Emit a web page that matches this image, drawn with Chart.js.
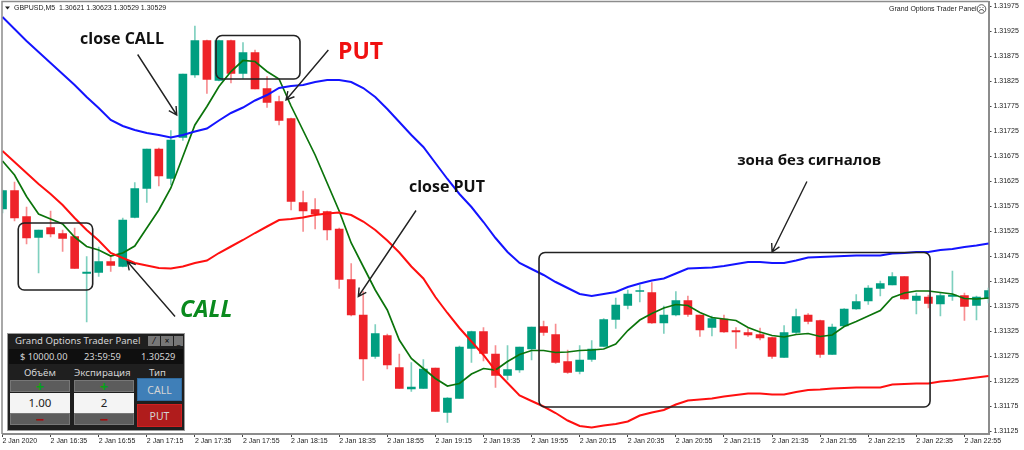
<!DOCTYPE html>
<html>
<head>
<meta charset="utf-8">
<script src="https://cdn.jsdelivr.net/npm/chart.js@4/dist/chart.umd.min.js"></script>
<style>
    html, body { margin: 0; padding: 0; background: #fff; }
    #wrap { position: relative; width: 1024px; height: 450px; overflow: hidden; }
    #panel { position: absolute; left: 7px; top: 333px; width: 176px; height: 96px; background: #1f1f1f; border: 1px solid #9a9a9a; box-sizing: content-box; font-family: "Noto Sans", sans-serif; color: #d4d4d4; font-size: 9.7px; }
    #panel div { position: absolute; text-align: center; white-space: nowrap; }
    .btn { background: #5c5c5c; border: 1px solid #777; box-sizing: border-box; font-weight: bold; line-height: 10px; font-size: 15px; }
    .val { background: #f4f4f4; color: #222; font-size: 11.5px; line-height: 20px; }
    .ico { top: 2px; height: 10px; background: #777; color: #000; line-height: 9px; font-size: 8px; }
</style>
</head>
<body>
<div id="wrap">
    <canvas id="myChart" width="1024" height="450"></canvas>
    <div id="panel">
        <div style="left:7px;top:0;width:133px;line-height:14px;font-size:9.6px;text-align:left">Grand Options Trader Panel</div>
        <div class="ico" style="left:140px;width:12px">⁄</div>
        <div class="ico" style="left:153px;width:12px">×</div>
        <div class="ico" style="left:166px;width:9px">_</div>
        <div style="left:1px;top:15px;width:174px;height:15px;background:#0f0f0f"></div>
        <div style="left:12px;top:15px;line-height:15px;font-size:9.3px">$ 10000.00</div>
        <div style="left:76px;top:15px;line-height:15px;font-size:9.3px">23:59:59</div>
        <div style="left:133px;top:15px;line-height:15px;font-size:9.3px">1.30529</div>
        <div style="left:16px;top:31px;line-height:15px">Объём</div>
        <div style="left:66px;top:31px;line-height:15px">Экспирация</div>
        <div style="left:141px;top:31px;line-height:15px">Тип</div>
        <div class="btn" style="left:2px;top:46px;width:60px;height:12px;color:#0aa01a">+</div>
        <div class="val" style="left:2px;top:59px;width:60px;height:20px">1.00</div>
        <div class="btn" style="left:2px;top:79px;width:60px;height:12px;color:#a01010">−</div>
        <div class="btn" style="left:66px;top:46px;width:60px;height:12px;color:#0aa01a">+</div>
        <div class="val" style="left:66px;top:59px;width:60px;height:20px">2</div>
        <div class="btn" style="left:66px;top:79px;width:60px;height:12px;color:#a01010">−</div>
        <div style="left:129px;top:44px;width:45px;height:23px;line-height:22px;background:#3f7fb8;border:1px solid #2f6a9e;box-sizing:border-box;font-size:10.5px">CALL</div>
        <div style="left:129px;top:70px;width:45px;height:23px;line-height:22px;background:#b01c1c;border:1px solid #d02020;box-sizing:border-box;font-size:10.5px">PUT</div>
    </div>
</div>
<script>
// GBPUSD M5 candles
const opens = [1.31570,1.31607,1.31555,1.31513,1.31533,1.31521,1.31515,1.31441,1.31443,1.31465,
    1.31455,1.31553,1.31611,1.31690,1.31631,1.31713,1.31838,1.31907,1.31827,1.31907,
    1.31841,1.31883,1.31811,1.31785,1.31751,1.31583,1.31569,1.31565,1.31530,1.31429,
    1.31358,1.31275,1.31317,1.31253,1.31210,1.31211,1.31252,1.31163,1.31191,1.31291,
    1.31325,1.31280,1.31237,1.31248,1.31290,1.31335,1.31319,1.31265,1.31245,1.31269,
    1.31295,1.31349,1.31377,1.31405,1.31403,1.31342,1.31358,1.31387,1.31358,1.31333,
    1.31350,1.31327,1.31323,1.31319,1.31313,1.31273,1.31323,1.31358,1.31347,1.31279,
    1.31336,1.31370,1.31386,1.31411,1.31418,1.31435,1.31387,1.31394,1.31380,1.31395,
    1.31397,1.31377,1.31391];
const highs = [1.31608,1.31624,1.31574,1.31528,1.31566,1.31528,1.31532,1.31475,1.31494,1.31475,
    1.31552,1.31623,1.31690,1.31692,1.31727,1.31840,1.31936,1.31908,1.31908,1.31908,
    1.31903,1.31888,1.31835,1.31796,1.31752,1.31606,1.31591,1.31566,1.31532,1.31461,
    1.31405,1.31339,1.31320,1.31280,1.31263,1.31269,1.31252,1.31193,1.31296,1.31326,
    1.31333,1.31297,1.31297,1.31294,1.31334,1.31346,1.31340,1.31288,1.31297,1.31307,
    1.31351,1.31392,1.31408,1.31418,1.31423,1.31376,1.31405,1.31396,1.31358,1.31356,
    1.31358,1.31333,1.31331,1.31332,1.31314,1.31337,1.31370,1.31361,1.31348,1.31340,
    1.31371,1.31399,1.31417,1.31426,1.31443,1.31435,1.31402,1.31398,1.31402,1.31446,
    1.31402,1.31396,1.31412];
const lows = [1.31562,1.31546,1.31500,1.31442,1.31514,1.31485,1.31451,1.31344,1.31435,1.31445,
    1.31454,1.31552,1.31583,1.31616,1.31618,1.31707,1.31833,1.31801,1.31826,1.31822,
    1.31831,1.31810,1.31773,1.31738,1.31568,1.31525,1.31530,1.31508,1.31411,1.31356,
    1.31227,1.31271,1.31250,1.31211,1.31205,1.31211,1.31165,1.31143,1.31191,1.31263,
    1.31266,1.31213,1.31228,1.31243,1.31268,1.31317,1.31261,1.31241,1.31240,1.31265,
    1.31294,1.31331,1.31370,1.31384,1.31341,1.31321,1.31356,1.31355,1.31315,1.31316,
    1.31323,1.31291,1.31315,1.31308,1.31271,1.31273,1.31321,1.31340,1.31273,1.31279,
    1.31336,1.31369,1.31379,1.31396,1.31418,1.31389,1.31360,1.31372,1.31356,1.31387,
    1.31347,1.31348,1.31382];
const closes = [1.31607,1.31552,1.31512,1.31528,1.31520,1.31511,1.31451,1.31444,1.31465,1.31457,
    1.31548,1.31611,1.31690,1.31636,1.31708,1.31840,1.31907,1.31829,1.31907,1.31841,
    1.31883,1.31810,1.31783,1.31747,1.31585,1.31566,1.31560,1.31528,1.31429,1.31358,
    1.31270,1.31321,1.31258,1.31211,1.31214,1.31250,1.31165,1.31192,1.31294,1.31325,
    1.31281,1.31237,1.31249,1.31294,1.31334,1.31323,1.31263,1.31243,1.31268,1.31290,
    1.31349,1.31378,1.31400,1.31407,1.31342,1.31358,1.31387,1.31359,1.31328,1.31351,
    1.31324,1.31324,1.31318,1.31312,1.31275,1.31323,1.31355,1.31345,1.31279,1.31334,
    1.31370,1.31385,1.31412,1.31421,1.31435,1.31390,1.31396,1.31381,1.31397,1.31398,
    1.31375,1.31394,1.31407];

// Indicator lines
const upperBand = [1.31954,1.31930,1.31906,1.31884,1.31862,1.31840,1.31818,1.31794,1.31772,1.31748,
    1.31736,1.31728,1.31722,1.31718,1.31713,1.31718,1.31725,1.31731,1.31747,1.31762,
    1.31773,1.31787,1.31798,1.31812,1.31816,1.31818,1.31824,1.31828,1.31828,1.31824,
    1.31812,1.31794,1.31770,1.31744,1.31718,1.31694,1.31662,1.31630,1.31600,1.31574,
    1.31544,1.31512,1.31484,1.31462,1.31450,1.31438,1.31424,1.31412,1.31400,1.31396,
    1.31400,1.31404,1.31414,1.31421,1.31427,1.31431,1.31441,1.31451,1.31452,1.31453,
    1.31456,1.31460,1.31464,1.31464,1.31462,1.31462,1.31467,1.31473,1.31474,1.31475,
    1.31476,1.31477,1.31477,1.31477,1.31481,1.31482,1.31484,1.31484,1.31488,1.31490,
    1.31494,1.31497,1.31501];
const lowerBand = [1.31686,1.31664,1.31642,1.31620,1.31600,1.31578,1.31552,1.31528,1.31507,1.31482,
    1.31472,1.31462,1.31457,1.31452,1.31451,1.31455,1.31462,1.31467,1.31482,1.31495,
    1.31508,1.31522,1.31535,1.31548,1.31550,1.31553,1.31558,1.31561,1.31563,1.31558,
    1.31545,1.31528,1.31507,1.31483,1.31455,1.31431,1.31394,1.31362,1.31332,1.31305,
    1.31278,1.31247,1.31222,1.31197,1.31186,1.31175,1.31162,1.31147,1.31136,1.31133,
    1.31137,1.31140,1.31145,1.31157,1.31163,1.31168,1.31179,1.31187,1.31189,1.31191,
    1.31195,1.31198,1.31201,1.31201,1.31199,1.31199,1.31204,1.31208,1.31209,1.31211,
    1.31212,1.31213,1.31213,1.31213,1.31219,1.31220,1.31221,1.31221,1.31225,1.31227,
    1.31230,1.31233,1.31236];
const movingAvg = [1.31666,1.31638,1.31595,1.31560,1.31550,1.31540,1.31514,1.31495,1.31488,1.31476,
    1.31482,1.31496,1.31532,1.31568,1.31612,1.31675,1.31738,1.31775,1.31815,1.31845,
    1.31867,1.31865,1.31845,1.31830,1.31776,1.31727,1.31678,1.31622,1.31566,1.31502,
    1.31455,1.31408,1.31368,1.31308,1.31271,1.31251,1.31231,1.31216,1.31221,1.31240,
    1.31251,1.31248,1.31265,1.31279,1.31287,1.31287,1.31283,1.31284,1.31287,1.31288,
    1.31290,1.31300,1.31327,1.31348,1.31361,1.31372,1.31379,1.31377,1.31363,1.31353,
    1.31350,1.31347,1.31333,1.31324,1.31317,1.31314,1.31319,1.31321,1.31315,1.31318,
    1.31335,1.31345,1.31356,1.31367,1.31393,1.31402,1.31406,1.31406,1.31403,1.31400,
    1.31391,1.31390,1.31392];

// Axis labels, one every 4 candles (20 minutes)
const timeLabels = ['2 Jan 2020','2 Jan 16:35','2 Jan 16:55','2 Jan 17:15','2 Jan 17:35','2 Jan 17:55','2 Jan 18:15',
    '2 Jan 18:35','2 Jan 18:55','2 Jan 19:15','2 Jan 19:35','2 Jan 19:55','2 Jan 20:15','2 Jan 20:35',
    '2 Jan 20:55','2 Jan 21:15','2 Jan 21:35','2 Jan 21:55','2 Jan 22:15','2 Jan 22:35','2 Jan 22:55'];
const priceTicks = [1.31125,1.31175,1.31225,1.31275,1.31325,1.31375,1.31425,1.31475,1.31525,1.31575,1.31625,
    1.31675,1.31725,1.31775,1.31825,1.31875,1.31925,1.31975];

const categories = opens.map((v, i) => (i % 4 === 0 ? timeLabels[i / 4] : ''));
const isDoji = i => Math.abs(opens[i] - closes[i]) <= 0.00002;
const wickColor = (v, i) => isDoji(i) ? '#555555' : (closes[i] >= opens[i] ? '#7fd0bf' : '#f78d90');
const bodyColor = (v, i) => isDoji(i) ? '#555555' : (closes[i] >= opens[i] ? '#009e80' : '#ee2329');

const FONT = '"Liberation Sans", sans-serif';

// Hand-drawn notes on top of the chart, placed by candle index and price
const noteBoxes = [
    [1.31, 1.31542, 7.5, 1.31408],
    [17.76, 1.31917, 24.74, 1.31830],
    [44.62, 1.31483, 77.14, 1.31174]
];
const noteArrows = [
    [11.24, 1.31879, 14.49, 1.31758],
    [27.1, 1.31888, 23.58, 1.31788],
    [34.39, 1.31567, 29.59, 1.31395],
    [14.35, 1.31355, 10.38, 1.31465],
    [66.9, 1.31625, 64.0, 1.31484]
];
const noteTexts = [
    ['close CALL', 6.45, 1.31910, 'bold 16px "Open Sans"', '#111111'],
    ['PUT', 27.9, 1.31884, 'bold 23px "Open Sans"', '#f01010'],
    ['close PUT', 33.8, 1.31614, 'bold 16px "Open Sans"', '#111111'],
    ['CALL', 14.76, 1.31368, 'italic bold 23px "Open Sans"', '#0a8a1e'],
    ['зона без сигналов', 61.1, 1.31666, 'bold 15px "Open Sans"', '#111111']
];

const notesPlugin = {
    id: 'notes',
    afterDraw(chart) {
        const { ctx, chartArea, scales } = chart;
        const px = i => scales.x.getPixelForValue(i);
        const py = p => scales.y.getPixelForValue(p);
        ctx.save();

        // grey frame on the two sides the axes do not cover
        ctx.strokeStyle = '#8c8c8c';
        ctx.lineWidth = 1.5;
        ctx.beginPath();
        ctx.moveTo(chartArea.left - 0.5, chartArea.bottom);
        ctx.lineTo(chartArea.left - 0.5, chartArea.top - 0.5);
        ctx.lineTo(chartArea.right, chartArea.top - 0.5);
        ctx.stroke();

        ctx.strokeStyle = '#222222';
        ctx.lineWidth = 1.6;
        noteBoxes.forEach(b => {
            ctx.beginPath();
            ctx.roundRect(px(b[0]), py(b[1]), px(b[2]) - px(b[0]), py(b[3]) - py(b[1]), 6);
            ctx.stroke();
        });

        ctx.lineWidth = 1.4;
        noteArrows.forEach(a => {
            const x1 = px(a[0]), y1 = py(a[1]), x2 = px(a[2]), y2 = py(a[3]);
            const ang = Math.atan2(y2 - y1, x2 - x1);
            ctx.beginPath();
            ctx.moveTo(x1, y1);
            ctx.lineTo(x2, y2);
            ctx.moveTo(x2 - 9 * Math.cos(ang - 0.5), y2 - 9 * Math.sin(ang - 0.5));
            ctx.lineTo(x2, y2);
            ctx.lineTo(x2 - 9 * Math.cos(ang + 0.5), y2 - 9 * Math.sin(ang + 0.5));
            ctx.stroke();
        });

        ctx.textBaseline = 'middle';
        noteTexts.forEach(t => {
            ctx.font = t[3];
            ctx.fillStyle = t[4];
            ctx.fillText(t[0], px(t[1]), py(t[2]));
        });

        // terminal header texts
        ctx.font = '7px ' + FONT;
        ctx.fillStyle = '#222222';
        ctx.beginPath();
        ctx.moveTo(5, 6.5);
        ctx.lineTo(10, 6.5);
        ctx.lineTo(7.5, 9.5);
        ctx.fill();
        ctx.fillText('GBPUSD,M5  1.30621 1.30623 1.30529 1.30529', 14, 8);
        ctx.fillText('Grand Options Trader Panel', 889, 9);

        // small sad face next to the panel name
        ctx.strokeStyle = '#333333';
        ctx.lineWidth = 0.8;
        ctx.beginPath();
        ctx.arc(981.5, 9, 4.3, 0, Math.PI * 2);
        ctx.moveTo(984, 11.5);
        ctx.arc(981.5, 12, 2.5, -0.2, Math.PI + 0.2, true);
        ctx.moveTo(980, 7);
        ctx.lineTo(980, 8);
        ctx.moveTo(983, 7);
        ctx.lineTo(983, 8);
        ctx.stroke();
        ctx.restore();
    }
};

const ctx = document.getElementById('myChart').getContext('2d');
const myChart = new Chart(ctx, {
    type: 'bar',
    data: {
        labels: categories,
        datasets: [
            { type: 'line', data: upperBand, borderColor: '#1414ff', borderWidth: 2, pointRadius: 0, order: 1 },
            { type: 'line', data: lowerBand, borderColor: '#ff1010', borderWidth: 2, pointRadius: 0, order: 1 },
            { type: 'line', data: movingAvg, borderColor: '#0b740b', borderWidth: 1.7, pointRadius: 0, order: 1 },
            { data: opens.map((o, i) => [o, closes[i]]), backgroundColor: opens.map(bodyColor), barThickness: 8, grouped: false, order: 2 },
            { data: lows.map((l, i) => [l, highs[i]]), backgroundColor: lows.map(wickColor), barThickness: 1, grouped: false, order: 3 }
        ]
    },
    options: {
        responsive: false,
        animation: false,
        layout: { padding: { left: 2.5, top: 2, right: 0, bottom: 0 } },
        plugins: { legend: { display: false }, tooltip: { enabled: false } },
        scales: {
            x: {
                type: 'category',
                offset: false,
                grid: { offset: false, drawOnChartArea: false, tickLength: 3, tickColor: '#444444' },
                border: { color: '#8c8c8c', width: 2 },
                ticks: { autoSkip: false, maxRotation: 0, minRotation: 0, align: 'start', padding: 0, color: '#222222', font: { family: FONT, size: 7 } },
                afterBuildTicks(axis) { axis.ticks = axis.ticks.filter(t => t.value % 4 === 0); },
                afterFit(axis) { axis.height = 16; axis.paddingLeft = 0; axis.paddingRight = 0; }
            },
            y: {
                position: 'right',
                min: 1.3112,
                max: 1.31984,
                grid: { drawOnChartArea: false, tickLength: 3, tickColor: '#444444' },
                border: { color: '#8c8c8c', width: 2 },
                ticks: { padding: 2, color: '#222222', font: { family: FONT, size: 7 }, callback: v => v.toFixed(5) },
                afterBuildTicks(axis) { axis.ticks = priceTicks.map(v => ({ value: v })); },
                afterFit(axis) { axis.width = 35.5; axis.paddingTop = 0; axis.paddingBottom = 0; }
            }
        }
    },
    plugins: [notesPlugin]
});
</script>
</body>
</html>
